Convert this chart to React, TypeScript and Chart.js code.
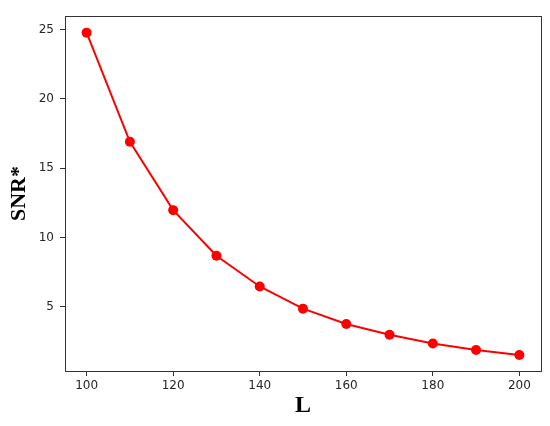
import React, { useEffect, useRef } from "react";
import { Chart, registerables } from "chart.js";

Chart.register(...registerables);

const lValues = [100, 110, 120, 130, 140, 150, 160, 170, 180, 190, 200];
const snrValues = [24.78, 16.9, 11.97, 8.68, 6.46, 4.86, 3.75, 2.98, 2.35, 1.87, 1.51];
const xTicks = [100, 120, 140, 160, 180, 200];
const yTicks = [5, 10, 15, 20, 25];
const xTitle = "L";
const yTitle = "SNR*";

const boxPlugin = {
  id: "boxPlugin",
  afterDraw(chart: any) {
    const { ctx, chartArea } = chart;
    ctx.save();
    ctx.strokeStyle = "#333333";
    ctx.lineWidth = 1;
    ctx.strokeRect(
      Math.round(chartArea.left) + 0.5,
      Math.round(chartArea.top) + 0.5,
      Math.round(chartArea.right - chartArea.left),
      Math.round(chartArea.bottom - chartArea.top)
    );
    ctx.restore();
  },
};

export default function App() {
  const ref = useRef<HTMLCanvasElement | null>(null);
  useEffect(() => {
    document.body.style.margin = "0";
    if (!ref.current) return;
    const chart = new Chart(ref.current, {
      type: "line",
      data: {
        datasets: [
          {
            data: lValues.map((x, i) => ({ x, y: snrValues[i] })),
            borderColor: "#ff0000",
            backgroundColor: "#ff0000",
            borderWidth: 2,
            pointRadius: 5,
            pointBackgroundColor: "#ff0000",
            pointBorderWidth: 0,
            tension: 0,
            clip: false as any,
          },
        ],
      },
      options: {
        responsive: false,
        animation: false,
        layout: { padding: { left: 0, top: 16, right: 9, bottom: 0 } },
        plugins: { legend: { display: false }, tooltip: { enabled: false } },
        scales: {
          x: {
            type: "linear",
            min: 95,
            max: 205,
            afterBuildTicks: (s: any) => {
              s.ticks = xTicks.map((v) => ({ value: v }));
            },
            afterFit: (s: any) => {
              s.height = 55;
            },
            grid: { drawOnChartArea: false, tickLength: 5, color: "#333333" },
            border: { display: false },
            ticks: {
              padding: 3,
              color: "#262626",
              font: { family: "DejaVu Sans", size: 12 },
              maxRotation: 0,
            },
            title: {
              display: true,
              text: xTitle,
              color: "#000000",
              font: { family: "Liberation Serif", size: 24, weight: "bold" },
              padding: { top: 0, bottom: 6 },
            },
          },
          y: {
            type: "linear",
            min: 0.36,
            max: 25.98,
            afterBuildTicks: (s: any) => {
              s.ticks = yTicks.map((v) => ({ value: v }));
            },
            afterFit: (s: any) => {
              s.width = 65;
            },
            grid: { drawOnChartArea: false, tickLength: 5, color: "#333333" },
            border: { display: false },
            ticks: {
              padding: 6,
              color: "#262626",
              font: { family: "DejaVu Sans", size: 12 },
            },
            title: {
              display: true,
              text: yTitle,
              color: "#000000",
              font: { family: "Liberation Serif", size: 22, weight: "bold" },
              padding: { top: 6, bottom: 0 },
            },
          },
        },
      },
      plugins: [boxPlugin],
    });
    return () => chart.destroy();
  }, []);
  return (
    <div style={{ position: "fixed", left: 0, top: 0, width: 550, height: 426, background: "#ffffff" }}>
      <canvas ref={ref} width={550} height={426} style={{ width: 550, height: 426 }} />
    </div>
  );
}
